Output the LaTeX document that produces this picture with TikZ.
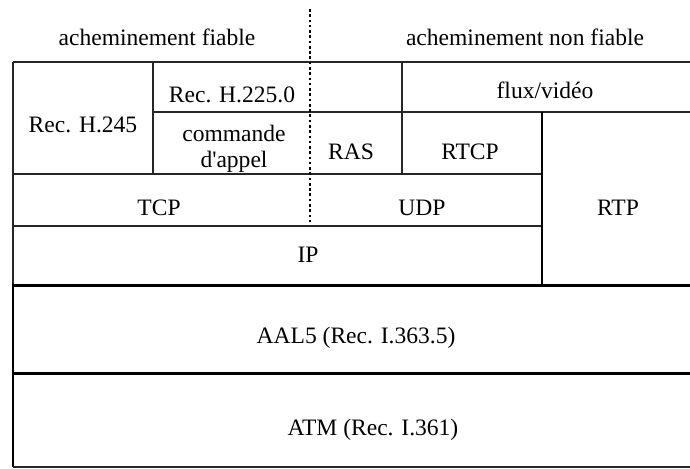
\documentclass[tikz,border=0pt]{standalone}
\usepackage{fontspec}
\setmainfont{Liberation Serif}[Ligatures=TeXOff]
\usetikzlibrary{positioning}

\begin{document}
\begin{tikzpicture}[
  x=0.02cm, y=-0.02cm,
  cell/.style={inner sep=0pt, anchor=base, align=center,
               font=\fontsize{13.4}{14.7}\selectfont},
  rule/.style={line width=0.6pt, black!85},
  midrule/.style={line width=1.1pt, black},
  heavy/.style={line width=1.7pt, black},
  split/.style={line width=1.6pt, black, dash pattern=on 1.5pt off 1.5pt}
]
\useasboundingbox (0,0) rectangle (690,468);

%% Headers
\node[cell] (fiable)    at (157,45) {acheminement fiable};
\node[cell] (nonfiable) at (525,45) {acheminement non fiable};

%% Upper stack
\node[cell] (h245)  at (83,132)  {Rec. H.245};
\node[cell] (h225)  at (232,102) {Rec. H.225.0};
\node[cell] (flux)  at (545,98)  {flux/vidéo};
\node[cell] (appel) at (234,167) {commande\\d'appel};
\node[cell] (ras)   at (351,159) {RAS};
\node[cell] (rtcp)  at (470,159) {RTCP};
\node[cell] (tcp)   at (159,215) {TCP};
\node[cell] (udp)   at (422,215) {UDP};
\node[cell] (rtp)   at (618,215) {RTP};
\node[cell] (ip)    at (308,262) {IP};

%% Lower stack
\node[cell] (aal5) at (356,343) {AAL5 (Rec. I.363.5)};
\node[cell] (atm)  at (373,435) {ATM (Rec. I.361)};

%% Thin frame
\draw[rule] (13,62) -- (690,62);
\draw[rule] (13,62) -- (13,285);
\draw[rule] (153,62) -- (153,174);
\draw[rule] (402,62) -- (402,174);
\draw[rule] (153,112) -- (690,112);
\draw[rule] (13,174) -- (542,174);
\draw[rule] (13,226) -- (542,226);
\draw[midrule] (542,112) -- (542,285);

%% Heavy frame round AAL5 and ATM
\draw[heavy] (690,285) -- (13,285) -- (13,467);
\draw[heavy] (13,373) -- (690,373);
\draw[rule] (13,467) -- (690,467);

%% Reliable / unreliable split
\draw[split] (310,9) -- (310,225);

\end{tikzpicture}
\end{document}
